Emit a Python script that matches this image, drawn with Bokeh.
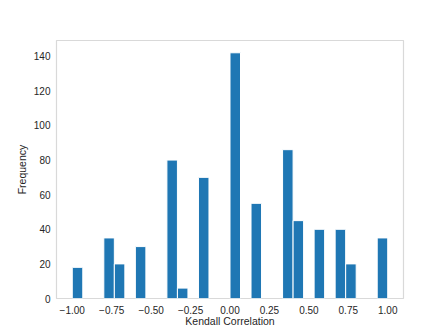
import numpy as np
from bokeh.plotting import figure
from bokeh.models import Range1d, FixedTicker
from bokeh.embed import file_html
from bokeh.resources import INLINE

# Histogram of Kendall correlations: 30 bins over [-1, 1]
bin_lo = -1.0
bin_hi = 1.0
n_bins = 30
counts = [18, 0, 0, 35, 20, 0, 30, 0, 0, 80,
          6, 0, 70, 0, 0, 142, 0, 55, 0, 0,
          86, 45, 0, 40, 0, 40, 20, 0, 0, 35]
x_ticks = [-1.0, -0.75, -0.5, -0.25, 0.0, 0.25, 0.5, 0.75, 1.0]
y_ticks = [0, 20, 40, 60, 80, 100, 120, 140]

edges = np.linspace(bin_lo, bin_hi, n_bins + 1)
lefts = [float(e) for e, c in zip(edges[:-1], counts) if c > 0]
rights = [float(e) for e, c in zip(edges[1:], counts) if c > 0]
tops = [c for c in counts if c > 0]

p = figure(width=448, height=336, output_backend="svg", toolbar_location=None,
           x_range=Range1d(-1.1, 1.1), y_range=Range1d(0, max(counts) * 1.05),
           min_border_left=56, min_border_right=45, min_border_top=40, min_border_bottom=38)

p.quad(left=lefts, right=rights, bottom=0, top=tops,
       fill_color="#1f77b4", line_color="white", line_width=1)

p.xgrid.visible = False
p.ygrid.visible = False
p.outline_line_color = "#d9d9d9"
p.outline_line_width = 1.2
p.background_fill_color = "white"

font = "Liberation Sans"
for ax in (p.xaxis, p.yaxis):
    ax.axis_line_color = None
    ax.major_tick_line_color = None
    ax.minor_tick_line_color = None
    ax.major_tick_out = 0
    ax.major_tick_in = 0
    ax.major_label_text_font = font
    ax.major_label_text_font_size = "10px"
    ax.major_label_text_color = "#262626"
    ax.axis_label_text_font = font
    ax.axis_label_text_font_size = "10.5px"
    ax.axis_label_text_font_style = "normal"
    ax.axis_label_text_color = "#262626"

p.xaxis.ticker = FixedTicker(ticks=x_ticks)
p.xaxis.major_label_overrides = {t: f"{t:.2f}".replace("-", "\u2212") for t in x_ticks}
p.yaxis.ticker = FixedTicker(ticks=y_ticks)
p.xaxis.axis_label = "Kendall Correlation"
p.yaxis.axis_label = "Frequency"
p.xaxis.major_label_standoff = 7
p.yaxis.major_label_standoff = 6
p.xaxis.axis_label_standoff = -2
p.yaxis.axis_label_standoff = 3

open("out.html", "w").write(file_html(p, INLINE))
